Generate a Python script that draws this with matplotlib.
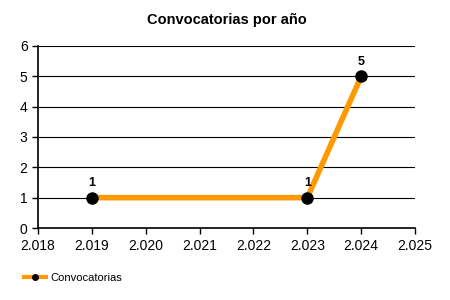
import matplotlib
matplotlib.use("Agg")
import matplotlib.pyplot as plt
from matplotlib.ticker import FuncFormatter

plt.rcParams["font.family"] = ["Liberation Sans", "DejaVu Sans"]

years = [2019, 2023, 2024]
counts = [1, 1, 5]
serie = "Convocatorias"

fig = plt.figure(figsize=(4.5, 3), dpi=100)
ax = fig.add_axes([0.0844, 0.24, 0.838, 0.607])

ax.plot(years, counts, color="#FF9900", linewidth=4, marker="o", markersize=8,
        markerfacecolor="black", markeredgecolor="black", label=serie, zorder=3)
for x, y in zip(years, counts):
    ax.annotate(str(y), (x, y), xytext=(0, 6), textcoords="offset points",
                ha="center", va="bottom", fontsize=9, fontweight="bold")

ax.set_xlim(2018, 2025)
ax.set_ylim(0, 6)
ax.set_xticks(range(2018, 2026))
ax.set_yticks(range(0, 7))
ax.xaxis.set_major_formatter(FuncFormatter(lambda v, p: f"{int(v):,}".replace(",", ".")))
ax.yaxis.grid(True, color="black", linewidth=0.8)
ax.set_axisbelow(True)
for s in ["top", "right"]:
    ax.spines[s].set_visible(False)
ax.spines["left"].set_linewidth(1.2)
ax.spines["bottom"].set_linewidth(1.2)
ax.tick_params(labelsize=10, length=4, width=1)
ax.tick_params(axis="x", pad=4)

ax.set_title("Convocatorias por año", fontsize=10.5, fontweight="bold", pad=16)

leg = fig.legend(loc="center left", bbox_to_anchor=(0.03, 0.073), frameon=False,
                 fontsize=8, handlelength=2.0, handletextpad=0.4, markerscale=0.5)
leg.get_lines()[0].set_linewidth(3)

fig.savefig("out.png", dpi=100)
